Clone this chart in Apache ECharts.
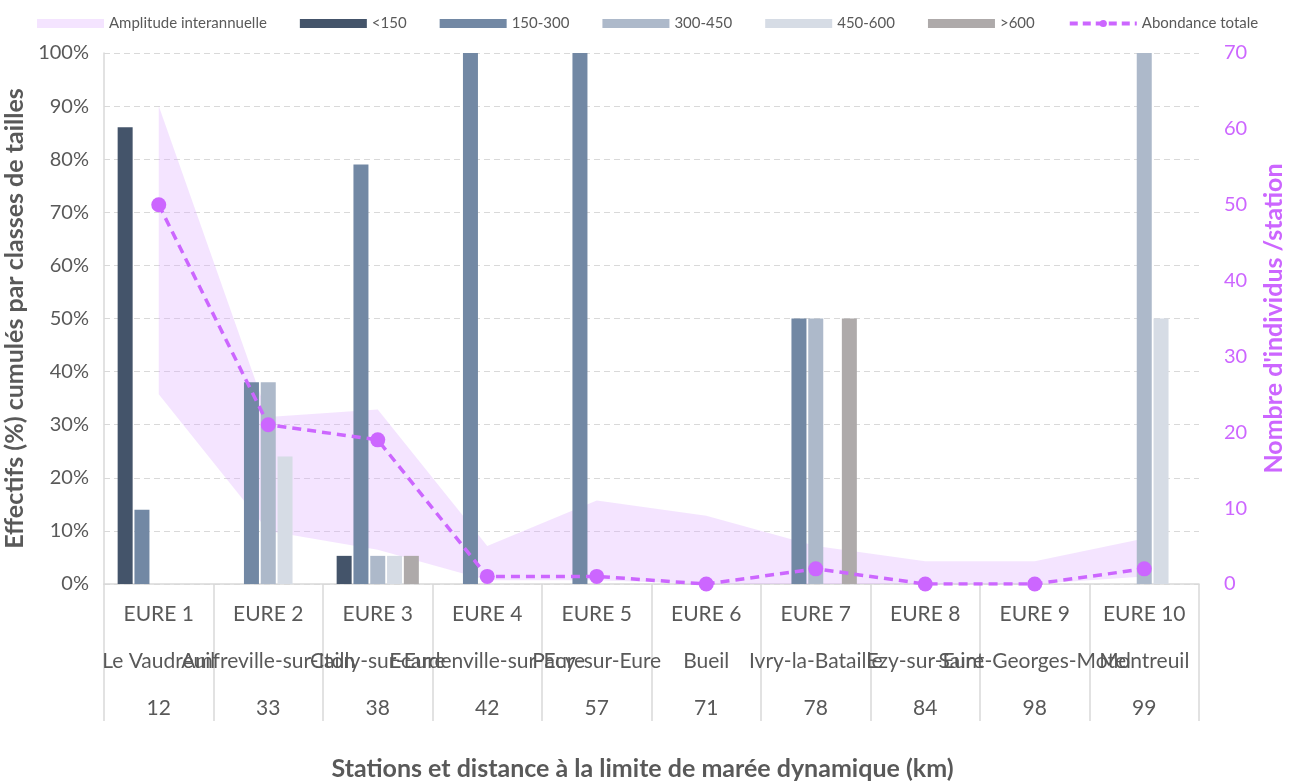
<!DOCTYPE html>
<html>
<head>
<meta charset="utf-8">
<script src="https://cdn.jsdelivr.net/npm/echarts@6/dist/echarts.min.js"></script>
<style>
html,body{margin:0;padding:0;background:#fff;overflow:hidden;}
#chart{width:1290px;height:781px;}
</style>
</head>
<body>
<div id="chart"></div>
<script>
const stations = ['EURE 1','EURE 2','EURE 3','EURE 4','EURE 5','EURE 6','EURE 7','EURE 8','EURE 9','EURE 10'];
const towns = ['Le Vaudreuil','Amfreville-sur-Iton','Cailly-sur-Eure','Ecardenville-sur-Eure','Pacy-sur-Eure','Bueil','Ivry-la-Bataille','Ezy-sur-Eure','Saint-Georges-Motel','Montreuil'];
const distances = ['12','33','38','42','57','71','78','84','98','99'];

const sizeLt150 = [86, 0, 5.3, 0, 0, 0, 0, 0, 0, 0];
const size150_300 = [14, 38, 79, 100, 100, 0, 50, 0, 0, 0];
const size300_450 = [0, 38, 5.3, 0, 0, 0, 50, 0, 0, 100];
const size450_600 = [0, 24, 5.3, 0, 0, 0, 0, 0, 0, 50];
const sizeGt600 = [0, 0, 5.3, 0, 0, 0, 50, 0, 0, 0];

const abundance = [50, 21, 19, 1, 1, 0, 2, 0, 0, 2];
const bandLow = [25, 7, 4.5, 0.5, 0.5, 0, 0, 0, 0, 1];
const bandHigh = [63, 22, 23, 5, 11, 9, 5, 3, 3, 6];

const leftTicks = [0,10,20,30,40,50,60,70,80,90,100];
const rightTicks = [0,10,20,30,40,50,60,70];

const bandDiff = bandHigh.map((v, i) => v - bandLow[i]);
const xLabels = stations.map((s, i) => s + '|' + towns[i] + '|' + distances[i]);

const FONT = 'Lato, "Open Sans", sans-serif';
const GREY = '#595959';
const PURPLE = '#CC66FF';
const BAND = 'rgba(222,172,255,0.32)';

const colors = ['#44546A', '#7288A4', '#ADB9CA', '#D6DCE5', '#AEAAAA'];
const sizeNames = ['<150', '150-300', '300-450', '450-600', '>600'];
const sizeData = [sizeLt150, size150_300, size300_450, size450_600, sizeGt600];

const chart = echarts.init(document.getElementById('chart'), null, {renderer: 'canvas'});

const barSeries = sizeNames.map((n, k) => ({
  name: n,
  type: 'bar',
  yAxisIndex: 0,
  barWidth: 15,
  barGap: '12%',
  z: 3,
  itemStyle: {color: colors[k]},
  data: sizeData[k]
}));

const option = {
  animation: false,
  textStyle: {fontFamily: FONT},
  legend: {
    top: 11,
    left: 32,
    itemWidth: 67,
    itemHeight: 9,
    itemGap: 33,
    textStyle: {color: GREY, fontSize: 15, fontFamily: FONT},
    data: [
      {name: 'Amplitude interannuelle', icon: 'rect'},
      {name: '<150', icon: 'rect'},
      {name: '150-300', icon: 'rect'},
      {name: '300-450', icon: 'rect'},
      {name: '450-600', icon: 'rect'},
      {name: '>600', icon: 'rect'},
      {name: 'Abondance totale', lineStyle: {width: 4, type: [8, 5]}}
    ]
  },
  grid: {left: 104, right: 91, top: 53, bottom: 197, containLabel: false, outerBoundsMode: 'none'},
  xAxis: {
    type: 'category',
    data: xLabels,
    boundaryGap: true,
    axisLine: {show: true, lineStyle: {color: '#D9D9D9', width: 1.5}},
    axisTick: {show: true, length: 137, interval: 0, lineStyle: {color: '#D9D9D9', width: 1.5}},
    axisLabel: {
      interval: 0,
      hideOverlap: false,
      margin: 7,
      formatter: function (v) {
        const p = v.split('|');
        return '{a|' + p[0] + '}\n{b|' + p[1] + '}\n{c|' + p[2] + '}';
      },
      rich: {
        a: {fontSize: 21, lineHeight: 47, color: GREY, fontFamily: FONT},
        b: {fontSize: 21, lineHeight: 47, color: GREY, fontFamily: FONT},
        c: {fontSize: 21, lineHeight: 47, color: GREY, fontFamily: FONT}
      }
    },
    name: 'Stations et distance à la limite de marée dynamique (km)',
    nameLocation: 'middle',
    nameGap: 172,
    nameTextStyle: {fontSize: 25, fontWeight: 'bold', color: GREY, fontFamily: FONT, padding: [0, 18, 0, 0]}
  },
  yAxis: [
    {
      type: 'value',
      min: leftTicks[0],
      max: leftTicks[leftTicks.length - 1],
      interval: 10,
      axisLine: {show: true, lineStyle: {color: '#D9D9D9', width: 1.5}},
      axisTick: {show: false},
      splitLine: {show: true, lineStyle: {color: '#D9D9D9', type: [6, 4], width: 1.2}},
      axisLabel: {formatter: '{value}%', fontSize: 20, color: GREY, margin: 15, fontFamily: FONT},
      name: 'Effectifs (%) cumulés par classes de tailles',
      nameLocation: 'middle',
      nameRotate: 90,
      nameGap: 77,
      nameTextStyle: {fontSize: 25, fontWeight: 'bold', color: GREY, fontFamily: FONT}
    },
    {
      type: 'value',
      position: 'right',
      min: rightTicks[0],
      max: rightTicks[rightTicks.length - 1],
      interval: 10,
      axisLine: {show: false},
      axisTick: {show: false},
      splitLine: {show: false},
      axisLabel: {fontSize: 20, color: PURPLE, margin: 25, fontFamily: FONT},
      name: "Nombre d'individus /station",
      nameLocation: 'middle',
      nameRotate: 90,
      nameGap: 62,
      nameTextStyle: {fontSize: 25, fontWeight: 'bold', color: PURPLE, fontFamily: FONT}
    }
  ],
  series: [
    {
      name: 'bandLow',
      type: 'line',
      yAxisIndex: 1,
      stack: 'band',
      symbol: 'none',
      lineStyle: {width: 0, opacity: 0},
      z: 1,
      silent: true,
      data: bandLow
    },
    {
      name: 'Amplitude interannuelle',
      type: 'line',
      yAxisIndex: 1,
      stack: 'band',
      symbol: 'none',
      lineStyle: {width: 0, opacity: 0},
      itemStyle: {color: BAND},
      areaStyle: {color: BAND, opacity: 1},
      z: 1,
      silent: true,
      data: bandDiff
    },
    ...barSeries,
    {
      name: 'Abondance totale',
      type: 'line',
      yAxisIndex: 1,
      symbol: 'circle',
      symbolSize: 15,
      z: 5,
      itemStyle: {color: PURPLE},
      lineStyle: {color: PURPLE, width: 3.5, type: [9, 6]},
      data: abundance
    }
  ]
};
chart.setOption(option);
</script>
</body>
</html>
